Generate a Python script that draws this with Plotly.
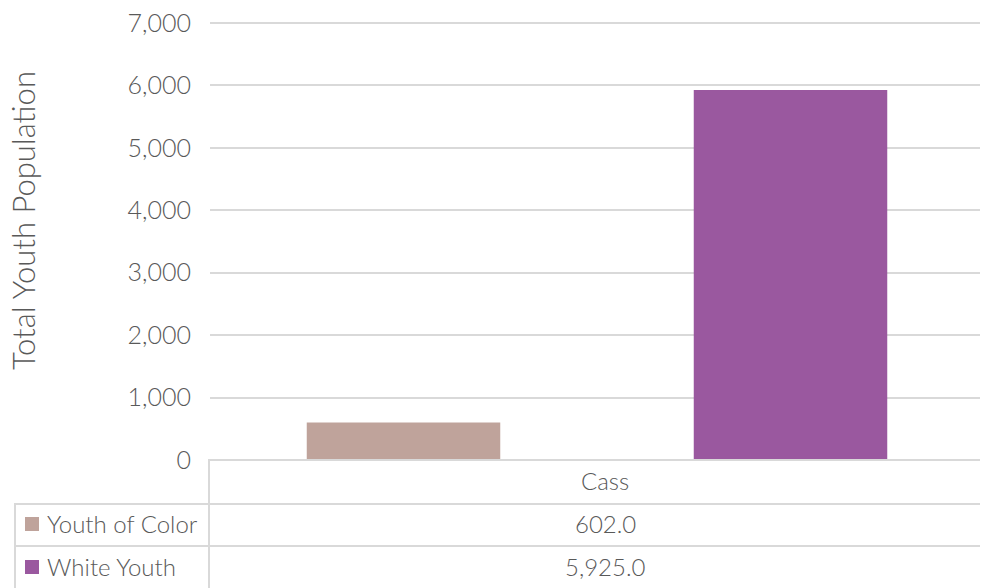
import plotly.graph_objects as go

categories = ["Cass"]
series_names = ["Youth of Color", "White Youth"]
youth_of_color = [602.0]
white_youth = [5925.0]
series_values = [youth_of_color, white_youth]
colors = ["#BFA39B", "#9A589F"]
y_ticks = [0, 1000, 2000, 3000, 4000, 5000, 6000, 7000]

OFF = 8  # default page body margin
W, H = 988, 588
L, R, T, B = 210, 984, 18, 460
TOP_GRID_PX = 23  # pixel row of the top tick
FONT = "Lato, sans-serif"
TXT = "#595959"
GRID = "#D9D9D9"

def dx(px):
    return (px - L) / (R - L)

def dy(py):
    return (B - py) / (B - T)

def tfont(size):
    return dict(family=FONT, size=size, color=TXT, weight=300)

y_top = y_ticks[-1] * (B - T) / (B - TOP_GRID_PX)

fig = go.Figure()
for name, vals, col in zip(series_names, series_values, colors):
    fig.add_trace(go.Bar(x=categories, y=vals, name=name, marker=dict(color=col, line=dict(width=0)),
                         showlegend=False, hoverinfo="y+name"))

shapes = []
line = dict(color=GRID, width=2)
row1, row2, bottom = 504, 546, 592
shapes.append(dict(type="line", xref="x domain", yref="y domain", x0=dx(209), x1=dx(983), y0=dy(460), y1=dy(460), line=line))
for yy in (row1, row2):
    shapes.append(dict(type="line", xref="x domain", yref="y domain", x0=dx(15), x1=dx(983), y0=dy(yy), y1=dy(yy), line=line))
shapes.append(dict(type="line", xref="x domain", yref="y domain", x0=dx(209), x1=dx(209), y0=dy(459), y1=dy(bottom), line=line))
shapes.append(dict(type="line", xref="x domain", yref="y domain", x0=dx(983), x1=dx(983), y0=dy(459), y1=dy(bottom), line=line))
shapes.append(dict(type="line", xref="x domain", yref="y domain", x0=dx(15), x1=dx(15), y0=dy(row1 - 1), y1=dy(bottom), line=line))

annotations = []
annotations.append(dict(xref="x", yref="y domain", x=categories[0], y=dy(480), text=categories[0],
                        xanchor="center", yanchor="middle", showarrow=False, xshift=8, font=tfont(24)))
row_centers = [523, 566]
for i, (name, vals, col) in enumerate(zip(series_names, series_values, colors)):
    yc = row_centers[i]
    shapes.append(dict(type="rect", xref="x domain", yref="y domain", x0=dx(25), x1=dx(39),
                       y0=dy(yc - 6), y1=dy(yc + 8), fillcolor=col, line=dict(width=0)))
    annotations.append(dict(xref="x domain", yref="y domain", x=dx(45), y=dy(yc), text=name,
                            xanchor="left", yanchor="middle", showarrow=False, font=tfont(24)))
    annotations.append(dict(xref="x", yref="y domain", x=categories[0], y=dy(yc), text=f"{vals[0]:,.1f}",
                            xanchor="center", yanchor="middle", showarrow=False, xshift=8, font=tfont(24)))
annotations.append(dict(xref="x domain", yref="y domain", x=dx(23), y=dy(221), xanchor="center", yanchor="middle",
                        text="Total Youth Population", textangle=-90, showarrow=False, font=tfont(31)))

fig.update_layout(
    width=W - OFF, height=H - OFF,
    margin=dict(l=L - OFF, r=W - R, t=T - OFF, b=H - B),
    paper_bgcolor="white", plot_bgcolor="white",
    barmode="group", bargap=0, bargroupgap=0.5,
    shapes=shapes, annotations=annotations,
    font=dict(family=FONT, color=TXT),
)
fig.update_xaxes(showticklabels=False, showgrid=False, zeroline=False, showline=False, automargin=False)
fig.update_yaxes(range=[0, y_top], tickvals=y_ticks, tickformat=",", showgrid=True, gridcolor=GRID,
                 gridwidth=1.5, zeroline=False, showline=False, ticks="", ticklabelstandoff=18,
                 ticklabeloverflow="allow", automargin=False, tickfont=tfont(25))

fig.write_html("out.html")
